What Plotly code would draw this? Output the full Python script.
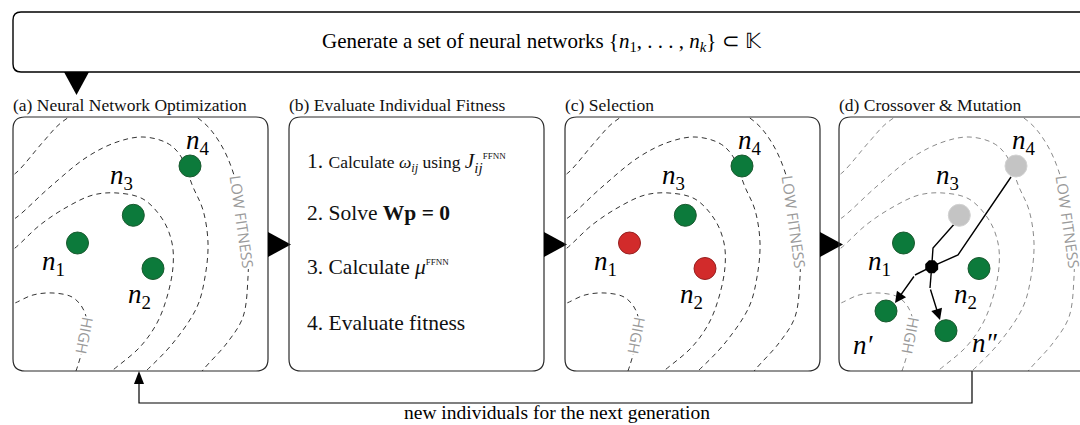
import plotly.graph_objects as go

W, H = 1080, 425
PW, PH = 255, 254  # panel size in px

# ---------------------------------------------------------------- data
# networks inside a fitness-landscape panel (panel-local px, y pointing down)
net_names = ["1", "2", "3", "4"]
net_x = [64.5, 140.0, 120.3, 177.0]
net_y = [126.0, 151.5, 98.3, 49.0]

# outcome of the selection step (True = survives)
selected = [False, False, True, True]

# networks used as parents in the crossover step
parents = [False, False, True, True]

# offspring produced by crossover & mutation
child_names = ["′", "″"]
child_x = [47.0, 107.0]
child_y = [194.0, 213.7]

# crossover junction
junction_x = [92.7]
junction_y = [149.7]

# dashed fitness contours (panel-local px), from high fitness to low fitness
contour_x = [
    [-6, 2, 20, 40, 59, 69, 74, 70, 65, 60],
    [-6, 2, 27, 54, 80, 104, 130, 150, 159, 160, 154, 144, 127, 100, 92],
    [-6, 4, 37, 74, 104, 130, 154, 167, 180, 190, 195, 192, 184, 160, 134, 126],
    [-6, 4, 30, 49, 80, 120, 160, 190, 207, 220, 230, 235, 235, 230, 214, 190, 184],
]
contour_y = [
    [189, 186, 178, 176, 180, 190, 205, 230, 248, 262],
    [136, 131, 108, 90, 78, 76, 82, 103, 126, 150, 180, 206, 230, 253, 260],
    [106, 100, 70, 40, 25, 20, 26, 38, 70, 93, 126, 160, 190, 226, 253, 260],
    [62, 55, 25, 5, -12, -20, -12, 5, 26, 55, 100, 140, 160, 200, 226, 253, 262],
]

# parent -> junction -> offspring paths
parent_path_x = [[117, 94, 92.7], [172, 119, 92.7]]
parent_path_y = [[105, 131, 149.7], [60, 138, 149.7]]
child_path_x = [[92.7, 76, 56], [92.7, 91, 101]]
child_path_y = [[149.7, 158, 186], [149.7, 171, 203]]

# text
header_text = ("Generate a set of neural networks "
               "{<i>n</i><sub>1</sub>, . . . , <i>n</i><sub><i>k</i></sub>} ⊂ 𝕂")
panel_titles = ["(a) Neural Network Optimization", "(b) Evaluate Individual Fitness",
                "(c) Selection", "(d) Crossover &amp; Mutation"]
fitness_steps = [
    "1. <span style='font-size:17.5px'>Calculate <i>ω</i><sub><i>ij</i></sub> using </span>"
    "<i>J</i><sub><i>ij</i></sub><sup><span style='font-size:9px'>FFNN</span></sup>",
    "2. Solve <b>Wp = 0</b>",
    "3. Calculate <i>μ</i><sup><span style='font-size:9px'>FFNN</span></sup>",
    "4. Evaluate fitness",
]
feedback_text = "new individuals for the next generation"

# ---------------------------------------------------------------- styling
SERIF = "Liberation Serif"
SANS = "Open Sans"
GREEN, GREEN_EDGE = "#0c7a3b", "#1b5a30"
RED, RED_EDGE = "#d22b2b", "#962020"
GREY, GREY_EDGE = "#c4c4c4", "#d2d2d2"

panel_origin = [(13, 117), (289, 117), (565, 117), (839, 117)]
landscape_axes = {0: 2, 2: 3, 3: 4}   # panel index -> subplot axis number


def rrect(x0, y0, x1, y1, r):
    return (f"M{x0+r},{y0} L{x1-r},{y0} Q{x1},{y0} {x1},{y0+r} L{x1},{y1-r} "
            f"Q{x1},{y1} {x1-r},{y1} L{x0+r},{y1} Q{x0},{y1} {x0},{y1-r} "
            f"L{x0},{y0+r} Q{x0},{y0} {x0+r},{y0} Z")


fig = go.Figure()
layout = dict(
    width=W, height=H, margin=dict(l=0, r=0, t=0, b=0),
    paper_bgcolor="white", plot_bgcolor="rgba(0,0,0,0)", showlegend=False,
    xaxis=dict(domain=[0, 1], range=[0, W], visible=False, fixedrange=True),
    yaxis=dict(domain=[0, 1], range=[H, 0], visible=False, fixedrange=True),
)
shapes, annotations = [], []

# ---------------------------------------------------------------- flow frame
shapes.append(dict(type="path", path=rrect(13, 12, 1110, 72, 8), xref="x", yref="y",
                   line=dict(color="black", width=1.4)))
annotations.append(dict(text=header_text, x=542, y=42, xref="x", yref="y",
                        showarrow=False, font=dict(family=SERIF, size=21, color="black")))
shapes.append(dict(type="path", path="M64,72 L89,72 L76.5,95 Z", xref="x", yref="y",
                   fillcolor="black", line=dict(width=0)))

for i, (ox, oy) in enumerate(panel_origin):
    shapes.append(dict(type="path", path=rrect(ox, oy, ox + PW, oy + PH, 12), xref="x", yref="y",
                       line=dict(color="#2b2b2b", width=1.2), layer="above"))
    annotations.append(dict(text=panel_titles[i], x=ox - 2, y=105, xref="x", yref="y",
                            xanchor="left", yanchor="middle", showarrow=False,
                            font=dict(family=SERIF, size=17.5, color="#111")))
    if i < 3:
        bx = ox + PW
        shapes.append(dict(type="path", path=f"M{bx},232 L{bx},257 L{bx+23},244.5 Z",
                           xref="x", yref="y", fillcolor="black", line=dict(width=0), layer="above"))

# feedback connector
fig.add_trace(go.Scatter(x=[972, 972, 139, 139], y=[371, 403, 403, 383], mode="lines",
                         line=dict(color="black", width=1.2), hoverinfo="skip",
                         xaxis="x", yaxis="y"))
shapes.append(dict(type="path", path="M134,384 L144,384 L139,371 Z", xref="x", yref="y",
                   fillcolor="black", line=dict(width=0)))
annotations.append(dict(text=feedback_text, x=557, y=424, xref="x", yref="y", showarrow=False,
                        yanchor="bottom", borderpad=0,
                        font=dict(family=SERIF, size=19.5, color="black")))

# ---------------------------------------------------------------- panel (b)
step_y = [162, 213, 267, 323]
for txt, yy in zip(fitness_steps, step_y):
    annotations.append(dict(text=txt, x=305, y=yy, xref="x", yref="y", xanchor="left",
                            yanchor="middle", showarrow=False,
                            font=dict(family=SERIF, size=21.5, color="#111")))

# ---------------------------------------------------------------- landscapes
for p, n in landscape_axes.items():
    ox, oy = panel_origin[p]
    x1 = min(ox + PW, W)
    xa, ya = f"x{n}", f"y{n}"
    layout[f"xaxis{n}"] = dict(domain=[ox / W, x1 / W], range=[0, x1 - ox], visible=False,
                               anchor=ya, fixedrange=True)
    layout[f"yaxis{n}"] = dict(domain=[1 - (oy + PH) / H, 1 - oy / H], range=[PH, 0],
                               visible=False, anchor=xa, fixedrange=True)

    dash_col = "#8a8a8a" if p == 3 else "#333333"
    for cx, cy in zip(contour_x, contour_y):
        fig.add_trace(go.Scatter(x=cx, y=cy, mode="lines", xaxis=xa, yaxis=ya,
                                 line=dict(color=dash_col, width=1, dash="5px,4px",
                                           shape="spline", smoothing=1.0),
                                 hoverinfo="skip"))
    for txt, lx, ly, ang in [("HIGH", 72, 218, 101), ("LOW FITNESS", 229.5, 104.5, 82)]:
        annotations.append(dict(text=txt, x=lx, y=ly, xref=xa, yref=ya, showarrow=False,
                                textangle=ang, bgcolor="white", borderpad=0,
                                font=dict(family=SANS, size=15, color="#9a9a9a")))

    # marker colours per step
    if p == 0:
        fill = [GREEN] * 4
        edge = [GREEN_EDGE] * 4
    elif p == 2:
        fill = [GREEN if s else RED for s in selected]
        edge = [GREEN_EDGE if s else RED_EDGE for s in selected]
    else:
        fill = [GREY if s else GREEN for s in parents]
        edge = [GREY_EDGE if s else GREEN_EDGE for s in parents]

    if p == 3:
        for px_, py_ in zip(parent_path_x, parent_path_y):
            fig.add_trace(go.Scatter(x=px_, y=py_, mode="lines", xaxis=xa, yaxis=ya,
                                     line=dict(color="black", width=1.4), hoverinfo="skip"))
        for px_, py_ in zip(child_path_x, child_path_y):
            fig.add_trace(go.Scatter(x=px_[:-1], y=py_[:-1], mode="lines", xaxis=xa, yaxis=ya,
                                     line=dict(color="black", width=1.4), hoverinfo="skip"))
            annotations.append(dict(x=px_[-1], y=py_[-1], ax=px_[-2], ay=py_[-2],
                                    xref=xa, yref=ya, axref=xa, ayref=ya, text="",
                                    showarrow=True, arrowhead=2, arrowsize=1.6,
                                    arrowwidth=1.4, arrowcolor="black", standoff=0))
        fig.add_trace(go.Scatter(x=junction_x, y=junction_y, mode="markers", xaxis=xa, yaxis=ya,
                                 marker=dict(symbol="octagon", size=14, color="black"),
                                 hoverinfo="skip"))

    fig.add_trace(go.Scatter(x=net_x, y=net_y, mode="markers", xaxis=xa, yaxis=ya,
                             marker=dict(size=22, color=fill, line=dict(color=edge, width=1)),
                             hoverinfo="skip", cliponaxis=False))

    offsets = [(-24.5, 20), (-14, 27.5), (-12, -38), (7.5, -24)]
    for name, nx, ny, (dx, dy) in zip(net_names, net_x, net_y, offsets):
        annotations.append(dict(text=f"<i>n</i><sub>{name}</sub>", x=nx + dx, y=ny + dy,
                                xref=xa, yref=ya, showarrow=False,
                                font=dict(family=SERIF, size=27, color="black")))

    if p == 3:
        fig.add_trace(go.Scatter(x=child_x, y=child_y, mode="markers", xaxis=xa, yaxis=ya,
                                 marker=dict(size=22, color=GREEN,
                                             line=dict(color=GREEN_EDGE, width=1)),
                                 hoverinfo="skip"))
        for name, cx_, cy_, (dx, dy) in zip(child_names, child_x, child_y, [(-23, 34), (39, 12)]):
            annotations.append(dict(text=f"<i>n{name}</i>", x=cx_ + dx, y=cy_ + dy,
                                    xref=xa, yref=ya, showarrow=False,
                                    font=dict(family=SERIF, size=27, color="black")))

layout["shapes"] = shapes
layout["annotations"] = annotations
fig.update_layout(**layout)
fig.write_html("out.html")
